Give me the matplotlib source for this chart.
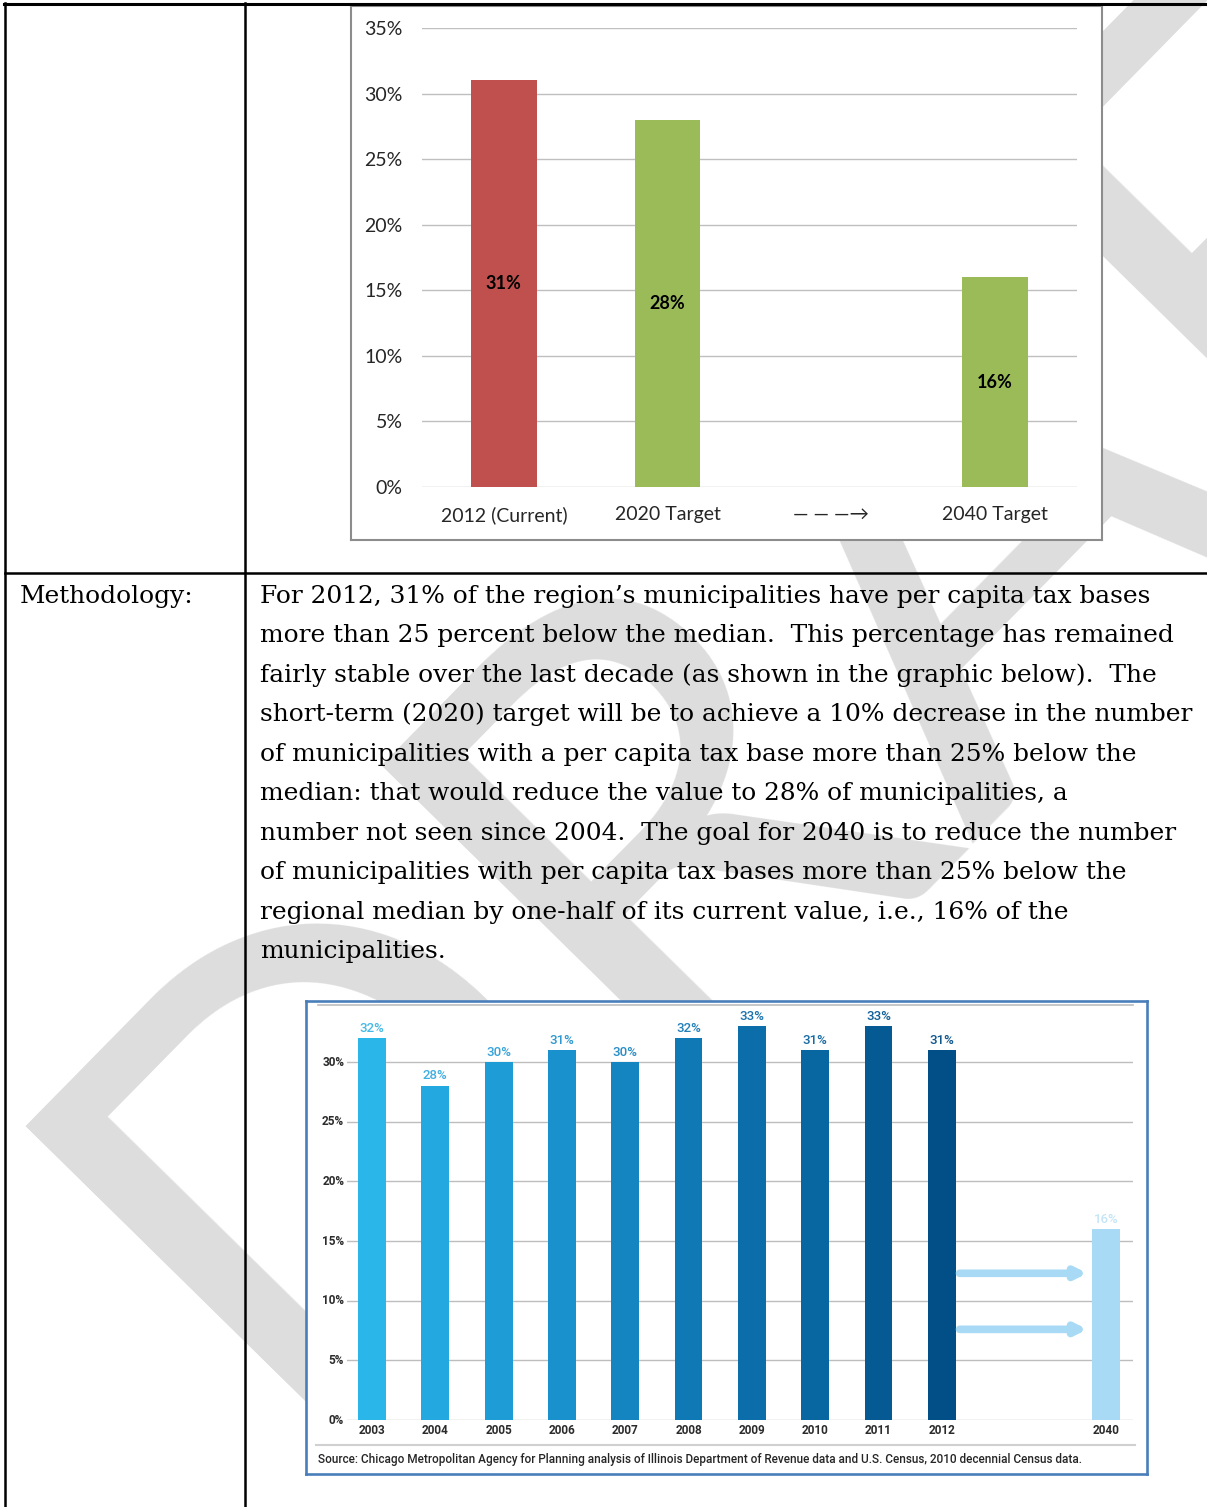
import numpy as np
import matplotlib
matplotlib.use("Agg")
import matplotlib.pyplot as plt
from matplotlib.lines import Line2D

# ---------------- data ----------------
target_categories = ["2012 (Current)", "2020 Target", "— — —→", "2040 Target"]
target_values = [31, 28, np.nan, 16]
target_ticks = [0, 5, 10, 15, 20, 25, 30, 35]

hist_years = ["2003", "2004", "2005", "2006", "2007", "2008", "2009", "2010", "2011", "2012", "2040"]
hist_values = [32, 28, 30, 31, 30, 32, 33, 31, 33, 31, 16]
hist_ticks = [0, 5, 10, 15, 20, 25, 30]
arrow_levels = [12.3, 7.6]

source_text = ("Source: Chicago Metropolitan Agency for Planning analysis of Illinois Department "
               "of Revenue data and U.S. Census, 2010 decennial Census data.")
row_label = "Methodology:"
para_lines = [
    "For 2012, 31% of the region’s municipalities have per capita tax bases",
    "more than 25 percent below the median.  This percentage has remained",
    "fairly stable over the last decade (as shown in the graphic below).  The",
    "short-term (2020) target will be to achieve a 10% decrease in the number",
    "of municipalities with a per capita tax base more than 25% below the",
    "median: that would reduce the value to 28% of municipalities, a",
    "number not seen since 2004.  The goal for 2040 is to reduce the number",
    "of municipalities with per capita tax bases more than 25% below the",
    "regional median by one-half of its current value, i.e., 16% of the",
    "municipalities.",
]
watermark = "DRAFT"

# ---------------- styles ----------------
W, H = 1207, 1507
target_colors = ["#C0504D", "#9BBB59", "none", "#9BBB59"]
hist_colors = ["#2BB6E9", "#23A8E0", "#1D9CD6", "#1991CC", "#1585C1", "#0F79B5",
               "#0B6DAA", "#0866A0", "#055A93", "#024E86", "#A9DAF5"]
hist_label_colors = ["#45B8E6", "#3FAEE0", "#36A3D9", "#2E98D0", "#288DC6", "#2080BA",
                     "#1B73AD", "#166AA3", "#125F96", "#0F568B", "#C4E5F7"]
serif = "DejaVu Serif"
para_size = 17.9


def fx(px):
    return px / W


def fy(py):
    return 1 - py / H


def box(x0, y0, x1, y1):
    return [fx(x0), fy(y1), fx(x1) - fx(x0), fy(y0) - fy(y1)]


fig = plt.figure(figsize=(W / 100, H / 100), dpi=100)
fig.patch.set_facecolor("white")

# watermark (behind everything)
fig.text(fx(306), fy(1461), watermark, fontsize=480, family="Lato", color="#DDDDDD",
         rotation=45.5, rotation_mode="anchor", ha="left", va="baseline", zorder=-5)

# table lines
lw_tab = 1.8
fig.add_artist(Line2D([fx(4), fx(W)], [fy(4), fy(4)], color="black", lw=2.2, zorder=5))
fig.add_artist(Line2D([fx(5.3), fx(5.3)], [fy(3), fy(H)], color="black", lw=lw_tab, zorder=5))
fig.add_artist(Line2D([fx(245.3), fx(245.3)], [fy(3), fy(H)], color="black", lw=lw_tab, zorder=5))
fig.add_artist(Line2D([fx(5), fx(W)], [fy(573), fy(573)], color="black", lw=lw_tab, zorder=5))

# ---------------- top chart ----------------
frame1 = fig.add_axes(box(350.5, 6, 1101.5, 539.5), zorder=1)
frame1.set_facecolor("white")
frame1.set_xticks([]); frame1.set_yticks([])
for s in frame1.spines.values():
    s.set_color("#8C8C8C"); s.set_linewidth(1.5)

ax1 = fig.add_axes(box(422, 28, 1077, 487), zorder=2)
ax1.set_facecolor("none")
x1 = np.arange(len(target_categories))
ax1.bar(x1, np.nan_to_num(target_values), width=0.4, color=target_colors, zorder=3)
for xi, v in zip(x1, target_values):
    if not np.isnan(v):
        ax1.text(xi, v / 2, f"{v:.0f}%", ha="center", va="center", fontsize=13,
                 fontweight="bold", family="Lato", color="black", zorder=4)
ax1.set_xlim(-0.5, len(target_categories) - 0.5)
ax1.set_ylim(0, 35)
ax1.set_yticks(target_ticks)
ax1.set_yticklabels([f"{t}%" for t in target_ticks])
ax1.set_xticks(x1)
ax1.set_xticklabels(target_categories)
ax1.grid(axis="y", color="#BFBFBF", lw=1.0, zorder=0)
ax1.set_axisbelow(True)
for s in ax1.spines.values():
    s.set_visible(False)
ax1.tick_params(axis="both", length=0, labelsize=14, colors="#262626")
ax1.tick_params(axis="y", pad=14)
ax1.tick_params(axis="x", pad=14)
for lab in ax1.get_xticklabels() + ax1.get_yticklabels():
    lab.set_family(["Lato", "DejaVu Sans"])

# ---------------- bottom chart ----------------
frame2 = fig.add_axes(box(306, 1001, 1147, 1474), zorder=1)
frame2.set_facecolor("white")
frame2.set_xticks([]); frame2.set_yticks([])
for s in frame2.spines.values():
    s.set_color("#4A7EBB"); s.set_linewidth(1.9)

fig.add_artist(Line2D([fx(318), fx(1133)], [fy(1005), fy(1005)], color="#BDBDBD", lw=1.2, zorder=3))
fig.add_artist(Line2D([fx(316), fx(1135)], [fy(1445), fy(1445)], color="#D0D0D0", lw=1.5, zorder=3))
fig.text(fx(318), fy(1460), source_text, fontsize=8.5, family="Roboto", fontweight="medium",
         color="#262626", ha="left", va="center", zorder=4)

ax2 = fig.add_axes(box(347, 1002.5, 1133, 1420), zorder=2)
ax2.set_facecolor("none")
x2 = np.arange(len(hist_years), dtype=float)
x2[-1] = x2[-2] + 2.6  # gap before 2040
ax2.bar(x2, hist_values, width=0.44, color=hist_colors, zorder=3)
for xi, v, c in zip(x2, hist_values, hist_label_colors):
    ax2.text(xi, v + 0.3, f"{v}%", ha="center", va="bottom", fontsize=9.5,
             fontweight="medium", family="Roboto", color=c, zorder=4)
for lvl in arrow_levels:
    ax2.annotate("", xy=(x2[-1] - 0.3, lvl), xytext=(x2[-2] + 0.28, lvl),
                 arrowprops=dict(arrowstyle="-|>,head_length=0.6,head_width=0.3",
                                 color="#A9DAF5", lw=5.5, shrinkA=0, shrinkB=0), zorder=3)
ax2.set_xlim(-0.395, 12.02)
ax2.set_ylim(0, 35)
ax2.set_yticks(hist_ticks)
ax2.set_yticklabels([f"{t}%" for t in hist_ticks])
ax2.set_xticks(x2)
ax2.set_xticklabels(hist_years)
ax2.grid(axis="y", color="#BDBDBD", lw=1.0, zorder=0)
ax2.set_axisbelow(True)
for s in ax2.spines.values():
    s.set_visible(False)
ax2.tick_params(axis="both", length=0, colors="#2B2B2B")
ax2.tick_params(axis="y", pad=2, labelsize=8.5)
ax2.tick_params(axis="x", pad=3, labelsize=8.5)
for lab in ax2.get_xticklabels() + ax2.get_yticklabels():
    lab.set_family("Roboto"); lab.set_fontweight("bold")
for lab in ax2.get_yticklabels():
    lab.set_verticalalignment("center")

# ---------------- text ----------------
fig.text(fx(20), fy(603), row_label, fontsize=para_size, family=serif,
         ha="left", va="baseline", color="black", zorder=4)
for i, line in enumerate(para_lines):
    fig.text(fx(260), fy(603 + 39.45 * i), line, fontsize=para_size, family=serif,
             ha="left", va="baseline", color="black", zorder=4)

fig.savefig("out.png", dpi=100, facecolor="white")
